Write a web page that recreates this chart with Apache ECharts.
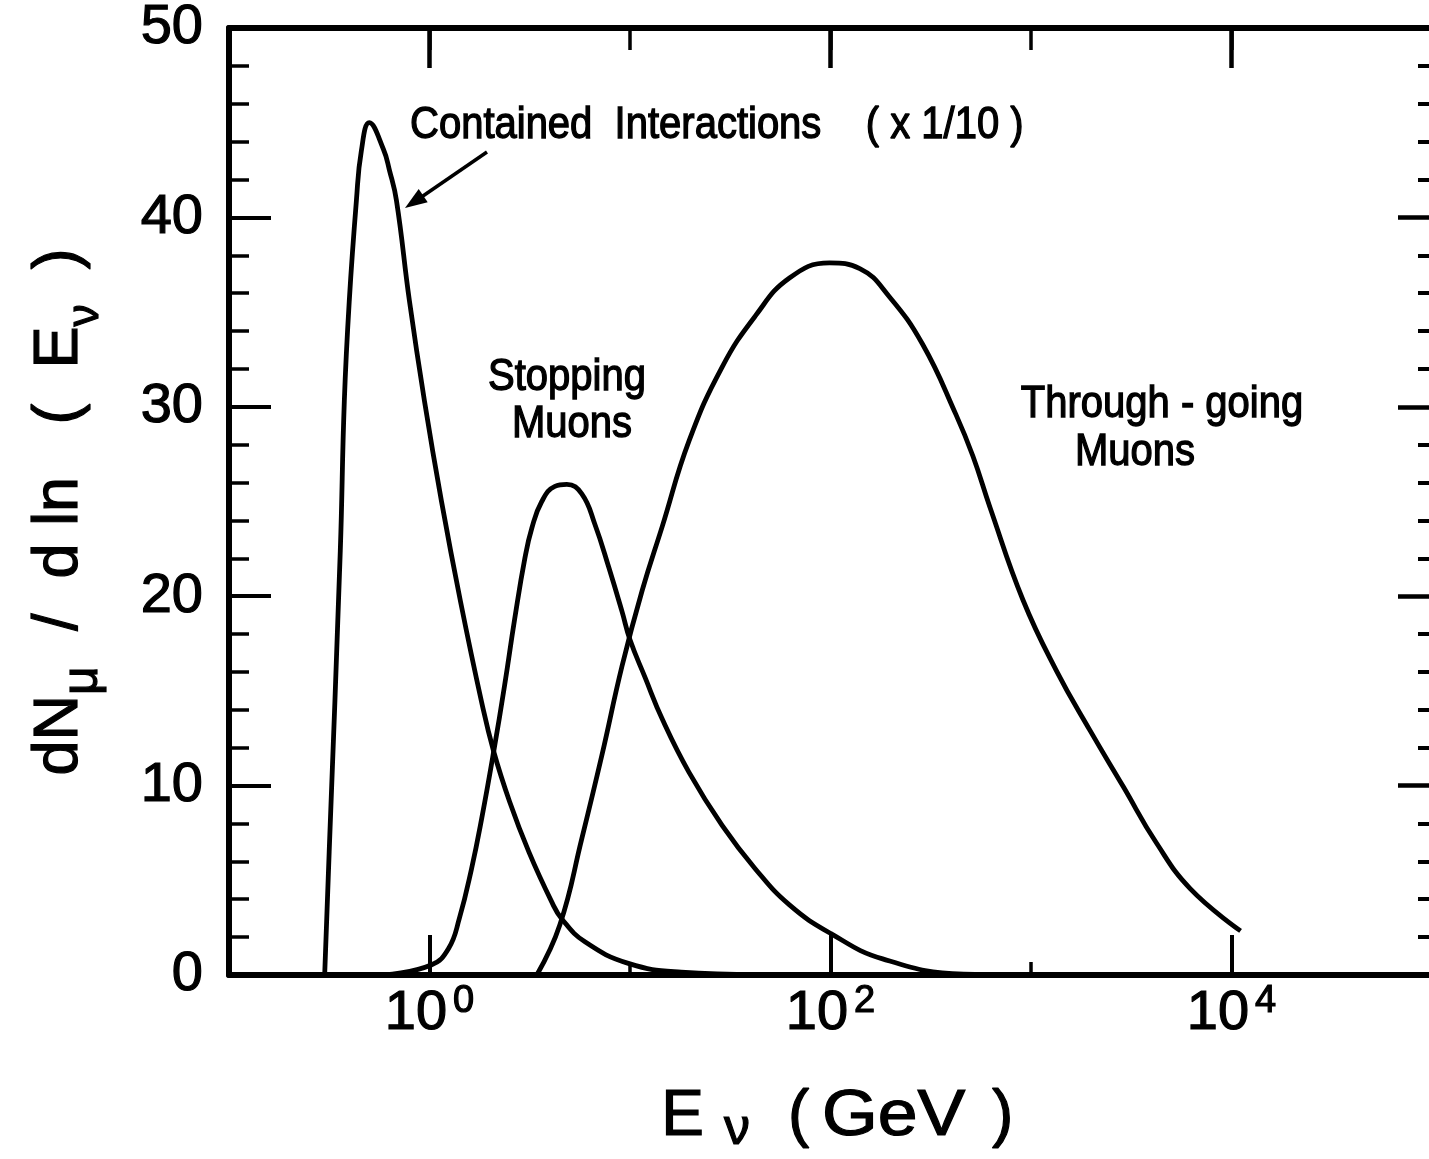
<!DOCTYPE html>
<html>
<head>
<meta charset="utf-8">
<script src="https://cdn.jsdelivr.net/npm/echarts@6/dist/echarts.min.js"></script>
<style>
html,body{margin:0;padding:0;background:#fff;}
#chart{width:1429px;height:1159px;}
</style>
</head>
<body>
<div id="chart"></div>
<script>
// ---- data (E in GeV, dN/dlnE) ----
const containedE   = [0.30, 0.316, 0.359, 0.376, 0.398, 0.432, 0.457, 0.501, 0.589, 0.631, 0.684, 0.794, 0.944, 1.148, 1.429, 1.82, 2.09, 2.51, 3.13, 4.07, 4.57, 5.96, 9.9, 18, 43];
const containedVal = [0,    6.5,   22.4,  30.3,  35.6,  40.9,  43.5,  45.0,  43.6,  42.5,  40.9,  35.6,  30.3,  25.0,  19.7,  14.4, 11.8, 9.15, 6.5,  3.86, 2.96, 1.75, 0.6, 0.15, 0.02];

const stoppingE   = [0.60, 1.02, 1.245, 1.41, 1.62, 1.82, 2.09, 2.37, 2.66, 2.99, 3.24, 3.63, 4.22, 4.84, 5.75, 6.68, 7.85, 9.12, 10.0, 11.9, 14.5, 19.7, 28.8, 42.2, 62.4, 100, 182, 462, 1400];
const stoppingVal = [0,    0.53, 1.4,   3.0,  5.6,  8.25, 11.8, 15.3, 18.8, 22.0, 23.6, 25.0, 25.8, 25.9, 25.4, 23.8, 21.5, 19.2, 17.7, 15.7, 13.5, 10.7, 7.9,  5.6,  3.7,  2.2, 0.85, 0.05, 0];

const throughE   = [3.43, 4.47, 5.75, 7.24, 9.12, 11.5, 14.5, 19.7, 28.8, 42.2, 62.4, 98.9, 140, 197, 288, 422, 513, 624, 912, 1334, 1972, 2884, 4217, 6237, 11100];
const throughVal = [0,    2.65, 7.2,  11.6, 16.3, 20.3, 23.7, 28.2, 32.1, 34.8, 36.8, 37.6, 37.3, 35.8, 33.3, 29.6, 27.4, 24.7, 19.8, 16.1, 12.9, 9.95, 6.98, 4.55, 2.33];

const yTicks = [0, 10, 20, 30, 40, 50];
const xLabelExponents = [0, 2, 4];

const labels = {
  contained: 'Contained  Interactions    ( x 1/10 )',
  stopping: ['Stopping', 'Muons'],
  through: ['Through - going', 'Muons'],
  xName: ['E', 'ν', '(', 'GeV', ')'],
  yName: '{a|dN}{u|μ}{a|  /  d ln   (  E}{v|ν}{a|  )}'
};

function zip(xs, ys) { return xs.map((x, i) => [x, ys[i]]); }

const FONT = '"Liberation Sans", Arial, Helvetica, sans-serif';
const chart = echarts.init(document.getElementById('chart'), null, {renderer: 'canvas'});

const GL = 229, GT = 28, GW = 1203, GH = 947;
const TB = {textBorderColor: '#000', textBorderWidth: 1.2};   // echarts label text stroke
const GS = {stroke: '#000', lineWidth: 1.2};                  // graphic text stroke

function xLabelFmt(v) {
  const e = Math.round(Math.log10(v) * 1000) / 1000;
  if (xLabelExponents.indexOf(e) < 0) return '';
  return '{b|10}{s|' + e + '}';
}

const baseX = {type: 'log', min: 0.1, max: 1e5, splitLine: {show: false}, minorTick: {show: false}};

const series = [
  {name: 'Contained', data: zip(containedE, containedVal)},
  {name: 'Stopping', data: zip(stoppingE, stoppingVal)},
  {name: 'Through', data: zip(throughE, throughVal)}
].map(s => Object.assign({
  type: 'line', xAxisIndex: 0, yAxisIndex: 0, showSymbol: false, smooth: 0.45,
  lineStyle: {color: '#000', width: 4.8}, z: 3, silent: true
}, s));

function txt(x, y, text, size, align, extra) {
  return Object.assign({type: 'text', x: x, y: y,
    style: Object.assign({text: text, fontFamily: FONT, fontSize: size, fill: '#000', align: align || 'center', verticalAlign: 'middle'}, GS)}, extra || {});
}

const option = {
  animation: false,
  backgroundColor: '#fff',
  grid: {left: GL, top: GT, width: GW, height: GH, containLabel: false, outerBoundsMode: 'none'},
  xAxis: [
    Object.assign({}, baseX, {position: 'bottom', logBase: 10,
      axisLine: {show: true, lineStyle: {color: '#000', width: 6}},
      axisTick: {show: true, inside: true, length: 13, lineStyle: {color: '#000', width: 3.5}},
      axisLabel: {show: false}}),
    Object.assign({}, baseX, {position: 'bottom', logBase: 100,
      axisLine: {show: false},
      axisTick: {show: true, inside: true, length: 40, lineStyle: {color: '#000', width: 4}},
      axisLabel: {show: true, margin: 8, formatter: xLabelFmt, color: '#000',
        rich: {b: Object.assign({fontFamily: FONT, fontSize: 56, lineHeight: 62, color: '#000'}, TB),
               s: Object.assign({fontFamily: FONT, fontSize: 38, lineHeight: 44, verticalAlign: 'top', color: '#000', padding: [0, 0, 0, 6]}, TB)}}}),
    Object.assign({}, baseX, {position: 'top', logBase: 10,
      axisLine: {show: true, lineStyle: {color: '#000', width: 6}},
      axisTick: {show: true, inside: true, length: 22, lineStyle: {color: '#000', width: 3.5}},
      axisLabel: {show: false}}),
    Object.assign({}, baseX, {position: 'top', logBase: 100,
      axisLine: {show: false},
      axisTick: {show: true, inside: true, length: 40, lineStyle: {color: '#000', width: 4.5}},
      axisLabel: {show: false}})
  ],
  yAxis: [
    {type: 'value', position: 'left', min: 0, max: 50, interval: 10,
      axisLine: {show: true, lineStyle: {color: '#000', width: 6}},
      axisTick: {show: true, inside: true, length: 42, lineStyle: {color: '#000', width: 4}},
      minorTick: {show: true, splitNumber: 5, length: 20, lineStyle: {color: '#000', width: 3.5}},
      splitLine: {show: false},
      axisLabel: Object.assign({show: true, margin: 26, color: '#000', fontFamily: FONT, fontSize: 56}, TB)},
    {type: 'value', position: 'right', min: 0, max: 50, interval: 10,
      axisLine: {show: false},
      axisTick: {show: true, inside: true, length: 34, lineStyle: {color: '#000', width: 4.5}},
      minorTick: {show: true, splitNumber: 5, length: 14, lineStyle: {color: '#000', width: 4}},
      splitLine: {show: false},
      axisLabel: {show: false}}
  ],
  series: series,
  graphic: [
    txt(410, 126, labels.contained, 40, 'left', {scaleY: 1.1}),
    txt(567, 378, labels.stopping[0], 40, 'center', {scaleY: 1.1}),
    txt(572, 425, labels.stopping[1], 40, 'center', {scaleY: 1.1}),
    txt(1162, 405, labels.through[0], 40, 'center', {scaleY: 1.1}),
    txt(1135, 453, labels.through[1], 40, 'center', {scaleY: 1.1}),
    {type: 'line', shape: {x1: 487, y1: 152, x2: 420, y2: 198}, style: {stroke: '#000', lineWidth: 3.5}},
    {type: 'polygon', shape: {points: [[405, 208], [427.7, 202.2], [418.7, 189.0]]}, style: {fill: '#000'}},
    txt(704, 1117, labels.xName[0], 64, 'right'),
    txt(737, 1130, labels.xName[1], 52, 'center'),
    txt(788, 1117, labels.xName[2], 64, 'left'),
    txt(822, 1117, labels.xName[3], 64, 'left', {scaleX: 1.12}),
    txt(992, 1117, labels.xName[4], 64, 'left'),
    {type: 'text', x: 60, y: 512, rotation: Math.PI / 2,
      style: Object.assign({text: labels.yName, fontFamily: FONT, fill: '#000', align: 'center', verticalAlign: 'middle',
        rich: {a: Object.assign({fontFamily: FONT, fontSize: 63, lineHeight: 96, fill: '#000'}, GS),
               u: Object.assign({fontFamily: FONT, fontSize: 50, lineHeight: 50, verticalAlign: 'bottom', fill: '#000'}, GS),
               v: Object.assign({fontFamily: FONT, fontSize: 44, lineHeight: 54, verticalAlign: 'bottom', fill: '#000'}, GS)}}, GS)}
  ]
};
chart.setOption(option);
</script>
</body>
</html>
